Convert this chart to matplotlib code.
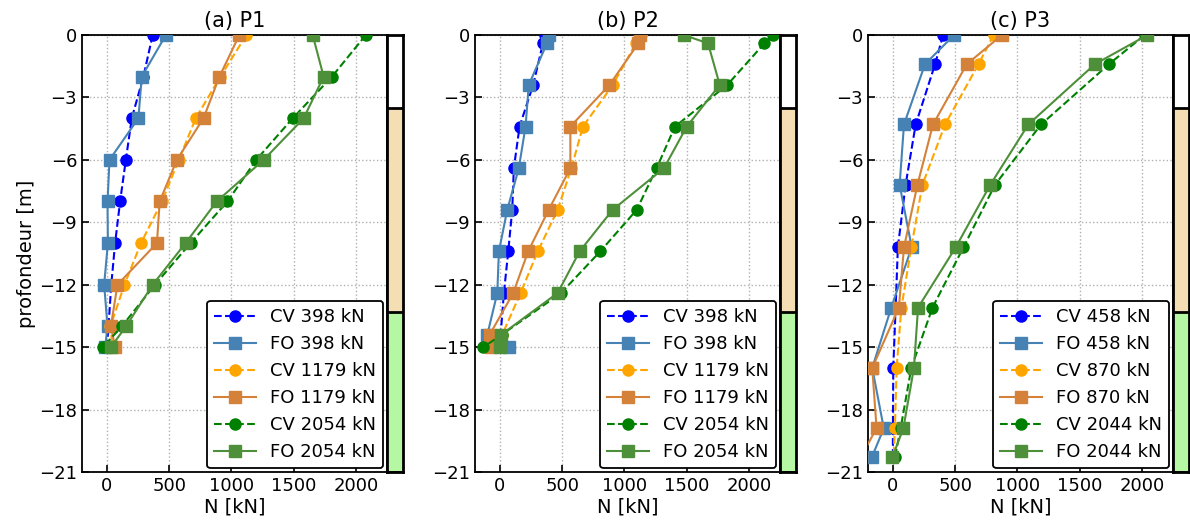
import numpy as np
import matplotlib
matplotlib.use("Agg")
import matplotlib.pyplot as plt

# ---- données (N en kN, profondeur en m) ----
z_a = [0, -2, -4, -6, -8, -10, -12, -14, -15]
cv398_a = [368, 293, 200, 152, 106, 66, 35, 13, 0]
fo398_a = [474, 280, 253, 21, 5, 8, -22, 5, -14]
cv1179_a = [1120, 912, 714, 578, 442, 274, 141, 28, 45]
fo1179_a = [1064, 904, 776, 562, 424, 402, 85, 32, 66]
cv2054_a = [2080, 1808, 1493, 1200, 968, 672, 386, 120, -32]
fo2054_a = [1653, 1741, 1581, 1259, 882, 632, 368, 154, 32]

z_b = [0, -0.4, -2.4, -4.4, -6.4, -8.4, -10.4, -12.4, -14.4, -15]
cv398_b = [360, 346, 267, 158, 112, 99, 67, 32, 6, 10]
fo398_b = [398, 378, 232, 206, 152, 59, -8, -21, -101, 72]
cv1179_b = [1130, 1093, 907, 667, 574, 464, 304, 166, 19, -48]
fo1179_b = [1125, 1112, 880, 566, 566, 392, 227, 107, -82, -69]
cv2054_b = [2192, 2125, 1826, 1406, 1259, 1099, 806, 491, 15, -133]
fo2054_b = [1477, 1672, 1766, 1501, 1318, 906, 640, 464, 11, 0]

z_c = [0, -1.4, -4.3, -7.2, -10.2, -13.1, -16.0, -18.9, -20.3]
cv458_c = [403, 339, 183, 102, 40, 22, 3, 0, 0]
fo458_c = [492, 258, 89, 54, 151, -13, -166, -73, -170]
cv870_c = [809, 688, 419, 237, 148, 68, 30, 16, 5]
fo870_c = [876, 594, 322, 197, 89, 48, -166, -131, -260]
cv2044_c = [2023, 1736, 1190, 820, 567, 318, 148, 62, 16]
fo2044_c = [2045, 1623, 1088, 782, 505, 202, 169, 84, -5]

titles = ["(a) P1", "(b) P2", "(c) P3"]
loads = [["398", "1179", "2054"], ["398", "1179", "2054"], ["458", "870", "2044"]]

# couches de sol (haut, bas, couleur)
couche_top = [0, -3.5, -13.3]
couche_bot = [-3.5, -13.3, -21]
couche_col = ["white", "#f5deb3", "#b5f7a3"]

cv_cols = ["blue", "orange", "green"]
fo_cols = ["#4682b4", "#d4823a", "#4e8f3a"]

panels = [
    (z_a, [cv398_a, cv1179_a, cv2054_a], [fo398_a, fo1179_a, fo2054_a]),
    (z_b, [cv398_b, cv1179_b, cv2054_b], [fo398_b, fo1179_b, fo2054_b]),
    (z_c, [cv458_c, cv870_c, cv2044_c], [fo458_c, fo870_c, fo2044_c]),
]

W, H = 1190, 526
fig = plt.figure(figsize=(W / 100, H / 100), dpi=100)
lefts = [82, 475, 868]
ax_w, strip_w = 305, 16
top, bot = 35, 472

for i, (z, cvs, fos) in enumerate(panels):
    ax = fig.add_axes([lefts[i] / W, 1 - bot / H, ax_w / W, (bot - top) / H])
    for k in range(3):
        ax.plot(cvs[k], z, "--o", color=cv_cols[k], ms=8, lw=1.5,
                label=f"CV {loads[i][k]} kN", zorder=3)
        ax.plot(fos[k], z, "-s", color=fo_cols[k], ms=8, lw=1.5,
                label=f"FO {loads[i][k]} kN", zorder=3)
    ax.set_xlim(-200, 2250)
    ax.set_ylim(-21, 0)
    ax.set_xticks([0, 500, 1000, 1500, 2000])
    ax.set_yticks(np.arange(-21, 1, 3))
    ax.grid(True, ls=":", color="#b0b0b0", lw=1)
    ax.tick_params(direction="in", labelsize=13, length=5, width=1.2)
    for s in ax.spines.values():
        s.set_linewidth(1.3)
    ax.set_title(titles[i], fontsize=15)
    ax.set_xlabel("N [kN]", fontsize=14, labelpad=2)
    if i == 0:
        ax.set_ylabel("profondeur [m]", fontsize=14, labelpad=2)
    leg = ax.legend(loc="lower right", fontsize=13, borderaxespad=0.2,
                    handlelength=2.3, framealpha=1, edgecolor="black")
    leg.get_frame().set_linewidth(1.3)

    # bande de sol à droite
    sx = fig.add_axes([(lefts[i] + ax_w) / W, 1 - bot / H, strip_w / W, (bot - top) / H])
    for t, b, c in zip(couche_top, couche_bot, couche_col):
        sx.axhspan(b, t, color=c)
        sx.axhline(b, color="black", lw=2)
    sx.set_xlim(0, 1)
    sx.set_ylim(-21, 0)
    sx.set_xticks([])
    sx.set_yticks([])
    for s in sx.spines.values():
        s.set_linewidth(2)

fig.savefig("out.png", dpi=100)
